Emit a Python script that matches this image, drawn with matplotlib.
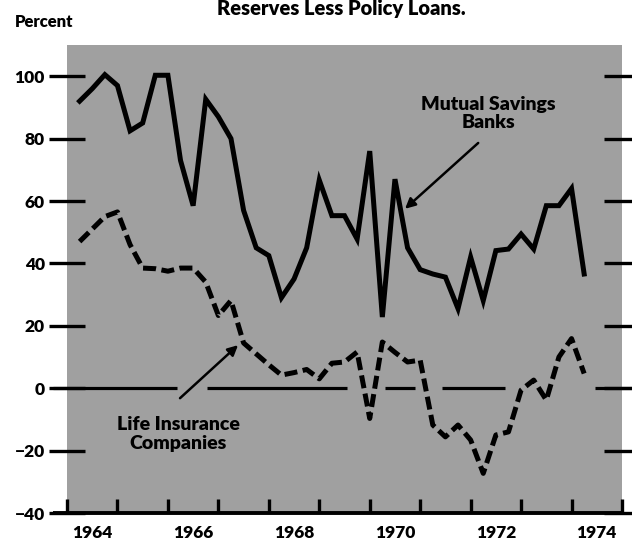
import numpy as np
import pandas as pd
import matplotlib
matplotlib.use("Agg")
import matplotlib.pyplot as plt
from matplotlib.lines import Line2D

# ---- data (quarterly, plotted at end of quarter) ----
quarters = pd.period_range("1964Q1", "1974Q1", freq="Q")
mutual_savings_banks = [
    92, 96, 100.5, 97, 82.5, 85, 100.3, 100.3, 73, 58.5,
    92.6, 87, 80, 57, 45, 42.5, 29, 35, 45, 66.7,
    55.3, 55.3, 47.8, 76, 22.8, 67, 45, 38, 36.6, 35.6,
    25.5, 42, 28.1, 44.1, 44.6, 49.4, 44.6, 58.5, 58.5, 64,
    36.6,
]
life_insurance = [
    47, 51, 55, 56.5, 46, 38.5, 38.3, 37.5, 38.5, 38.5,
    34, 23.3, 28.1, 14.5, 11, 7.5, 4.2, 5, 6, 3,
    8, 8.4, 11.6, -9.7, 14.8, 11.5, 8.4, 9, -11.8, -15.6,
    -11.8, -16.6, -27.3, -15, -14, -0.6, 2.6, -3.8, 10, 15.9,
    4.7,
]
y_ticks = [100, 80, 60, 40, 20, 0, -20, -40]
year_labels = ["1964", "1966", "1968", "1970", "1972", "1974"]

x = np.array([q.year + q.quarter / 4.0 for q in quarters])

FONT = ["Lato", "DejaVu Sans"]
plt.rcParams["font.family"] = FONT
WEIGHT = "heavy"

W, H = 632, 546
fig = plt.figure(figsize=(W / 100, H / 100), dpi=100)
fig.patch.set_facecolor("white")
ax = fig.add_axes([67 / W, 1 - 513 / H, (622 - 67) / W, (513 - 45) / H])
ax.set_facecolor("#a0a0a0")
ax.set_xlim(1964, 1975)
ax.set_ylim(-40, 110)

for s in ax.spines.values():
    s.set_visible(False)

# zero line (with small breaks as in the original)
zero_segments = [(1963.72, 1966.18), (1966.78, 1969.55), (1970.30, 1970.90),
                 (1971.43, 1972.68), (1974.47, 1975.2)]
for a, b in zero_segments:
    ax.plot([a, b], [0, 0], color="black", lw=2.3, solid_capstyle="butt",
            clip_on=False, zorder=2)

# series
ax.plot(x, mutual_savings_banks, color="black", lw=3.6, solid_joinstyle="miter",
        zorder=3)
ax.plot(x, life_insurance, color="black", lw=3.6, linestyle=(0, (2.6, 1.1)),
        dash_capstyle="butt", zorder=3)

# bottom axis line
ax.add_line(Line2D([-0.025, 1.0], [0, 0], transform=ax.transAxes, color="black",
                   lw=2.8, clip_on=False, zorder=4, solid_capstyle="butt"))

# y ticks left / right
ax.set_yticks(y_ticks)
ax.set_yticklabels([("\u2212" + str(-v)) if v < 0 else str(v) for v in y_ticks],
                   fontsize=12.5, fontweight=WEIGHT)
ax.tick_params(axis="y", which="major", left=True, right=True, direction="inout",
               length=26, width=2.4, pad=3, labelleft=True)

# x ticks
years = np.arange(1964, 1976)
ax.set_xticks(years)
ax.set_xticklabels([])
ax.tick_params(axis="x", which="major", direction="in", length=10, width=2.4,
               bottom=True, top=False)
ax.set_xticks([int(y) + 0.5 for y in year_labels], minor=True)
ax.set_xticklabels(year_labels, minor=True, fontsize=12.5, fontweight=WEIGHT)
ax.tick_params(axis="x", which="minor", length=0, pad=9)

# annotations
ax.text(1972.35, 88, "Mutual Savings\nBanks", ha="center", va="center",
        fontsize=14, fontweight=WEIGHT, linespacing=1.1)
ax.annotate("", xy=(1970.70, 57.5), xytext=(1972.15, 78.6),
            arrowprops=dict(arrowstyle="-|>", lw=1.8, color="black",
                            mutation_scale=15, shrinkA=0, shrinkB=0))
ax.text(1966.2, -14.8, "Life Insurance\nCompanies", ha="center", va="center",
        fontsize=14, fontweight=WEIGHT, linespacing=1.15)
ax.annotate("", xy=(1967.39, 13.8), xytext=(1966.24, -3.2),
            arrowprops=dict(arrowstyle="-|>", lw=1.8, color="black",
                            mutation_scale=15, shrinkA=0, shrinkB=0))

# labels outside
fig.text(15 / W, 1 - 22 / H, "Percent", ha="left", va="center", fontsize=12,
         fontweight=WEIGHT)
fig.text(341 / W, 1 - 15 / H, "Reserves Less Policy Loans.", ha="center",
         va="baseline", fontsize=14.5, fontweight=WEIGHT)

fig.savefig("out.png", dpi=100)
